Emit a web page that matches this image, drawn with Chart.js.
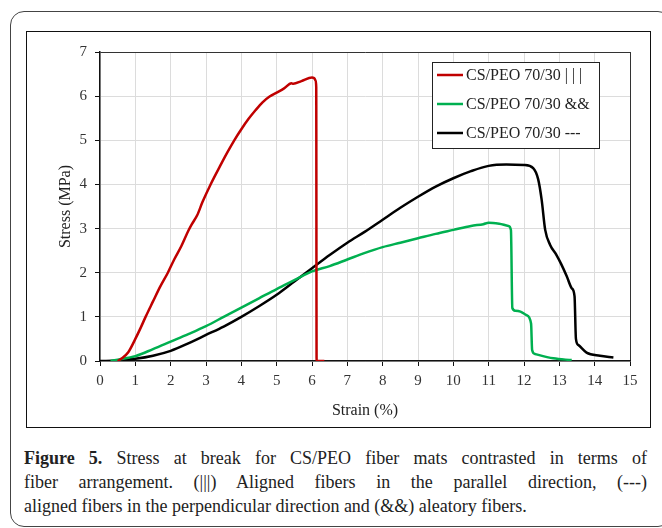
<!DOCTYPE html>
<html>
<head>
<meta charset="utf-8">
<script src="https://cdn.jsdelivr.net/npm/chart.js@4.4.1/dist/chart.umd.min.js"></script>
<style>
    body { margin: 0; background: #fff; width: 662px; height: 528px; overflow: hidden; position: relative; }
    #outer { position: absolute; left: 10px; top: 11px; width: 660px; height: 514px; border: 1px solid #444; border-radius: 14px; }
    #frame { position: absolute; left: 26px; top: 31px; width: 623px; height: 395px; border: 1px solid #111; }
    #wrap { position: absolute; left: 27px; top: 32px; width: 622px; height: 394px; }
    #caption { position: absolute; left: 24px; top: 446px; width: 623px; font-family: 'Liberation Serif', serif; font-size: 18px; line-height: 24px; color: #222; }
    #caption div { text-align: justify; text-align-last: justify; white-space: nowrap; }
    #caption div.last { text-align-last: left; }
</style>
</head>
<body>
<div id="outer"></div>
<div id="frame"></div>
<div id="wrap"><canvas id="stressChart"></canvas></div>
<div id="caption">
    <div><b>Figure 5.</b> Stress at break for CS/PEO fiber mats contrasted in terms of</div>
    <div>fiber arrangement. (|||) Aligned fibers in the parallel direction, (---)</div>
    <div class="last">aligned fibers in the perpendicular direction and (&amp;&amp;) aleatory fibers.</div>
</div>
<script>
// Series: strain (%) vs stress (MPa)
const seriesLabels = ['CS/PEO 70/30 | | |', 'CS/PEO 70/30 &&', 'CS/PEO 70/30 ---'];

const redStrain = [0.5, 0.6, 0.8, 1.0, 1.15, 1.29, 1.5, 1.7, 1.92, 2.1, 2.3, 2.5, 2.6, 2.75, 2.9, 3.13, 3.4, 3.6, 3.8, 4.0, 4.2, 4.4, 4.6, 4.8, 5.0, 5.2, 5.42, 5.47, 5.7, 6.0, 6.06, 6.1, 6.12, 6.13, 6.35];
const redStress = [0, 0.05, 0.2, 0.5, 0.75, 1.0, 1.35, 1.68, 2.0, 2.3, 2.6, 2.95, 3.1, 3.3, 3.6, 4.0, 4.42, 4.72, 5.0, 5.25, 5.48, 5.68, 5.86, 5.99, 6.08, 6.17, 6.29, 6.28, 6.34, 6.42, 6.41, 6.36, 6.2, 0, 0];

const greenStrain = [0.3, 0.5, 1, 1.5, 2, 2.5, 3, 3.5, 4, 4.5, 5, 5.5, 6, 6.5, 7, 7.5, 8, 8.5, 9, 9.5, 10, 10.5, 10.85, 11.0, 11.3, 11.56, 11.63, 11.67, 11.75, 11.9, 12.07, 12.2, 12.23, 12.31, 12.83, 13.35];
const greenStress = [0, 0.03, 0.11, 0.27, 0.44, 0.61, 0.79, 1.0, 1.21, 1.42, 1.63, 1.83, 2.03, 2.15, 2.3, 2.45, 2.58, 2.68, 2.78, 2.88, 2.97, 3.06, 3.1, 3.13, 3.11, 3.06, 2.97, 1.2, 1.14, 1.12, 1.04, 0.85, 0.25, 0.16, 0.06, 0.02];

const blackStrain = [0, 0.5, 1, 1.5, 2, 2.5, 3, 3.5, 4, 4.5, 5, 5.5, 6, 6.5, 7, 7.5, 8, 8.5, 9, 9.5, 10, 10.5, 11, 11.5, 12, 12.26, 12.4, 12.5, 12.6, 12.74, 12.92, 13.05, 13.21, 13.35, 13.43, 13.47, 13.54, 13.77, 14.15, 14.53];
const blackStress = [0, 0.01, 0.05, 0.12, 0.23, 0.4, 0.59, 0.78, 1.0, 1.24, 1.5, 1.8, 2.1, 2.4, 2.68, 2.93, 3.2, 3.47, 3.72, 3.95, 4.14, 4.3, 4.42, 4.45, 4.44, 4.37, 4.12, 3.65, 2.97, 2.63, 2.4, 2.2, 1.92, 1.65, 1.47, 0.5, 0.36, 0.19, 0.12, 0.08];

const xMin = 0, xMax = 15, yMin = 0, yMax = 7;
const seriesColors = ['#c00000', '#00b050', '#000000'];

function toPoints(xs, ys) {
    return xs.map((x, i) => ({ x: x, y: ys[i] }));
}

// Legend box drawn inside the plot, top right
const legendBox = {
    id: 'legendBox',
    afterDatasetsDraw(chart) {
        const { ctx, chartArea } = chart;
        const x = chartArea.left + 332, y = chartArea.top + 10, w = 167, h = 86;
        ctx.save();
        ctx.fillStyle = '#fff';
        ctx.fillRect(x, y, w, h);
        ctx.strokeStyle = '#222';
        ctx.lineWidth = 1;
        ctx.strokeRect(x + 0.5, y + 0.5, w, h);
        ctx.font = "16px 'Liberation Serif', serif";
        ctx.textBaseline = 'middle';
        chart.data.datasets.forEach((ds, i) => {
            const cy = y + 13 + i * 29;
            ctx.strokeStyle = ds.borderColor;
            ctx.lineWidth = 2.5;
            ctx.beginPath();
            ctx.moveTo(x + 5, cy);
            ctx.lineTo(x + 31, cy);
            ctx.stroke();
            ctx.fillStyle = '#222';
            ctx.fillText(ds.label, x + 34, cy + 1);
        });
        ctx.restore();
    }
};

function initChart() {
    const ctx = document.getElementById('stressChart').getContext('2d');
    Chart.defaults.font.family = "'Liberation Serif', serif";
    Chart.defaults.color = '#333';

    new Chart(ctx, {
        type: 'line',
        data: {
            datasets: [
                { label: seriesLabels[0], data: toPoints(redStrain, redStress), borderColor: seriesColors[0] },
                { label: seriesLabels[1], data: toPoints(greenStrain, greenStress), borderColor: seriesColors[1] },
                { label: seriesLabels[2], data: toPoints(blackStrain, blackStress), borderColor: seriesColors[2] }
            ]
        },
        options: {
            responsive: true,
            maintainAspectRatio: false,
            animation: false,
            layout: { padding: { top: 20, right: 19, left: 0, bottom: 0 } },
            elements: {
                line: { borderWidth: 2.5, cubicInterpolationMode: 'monotone', fill: false },
                point: { radius: 0, hoverRadius: 0 }
            },
            plugins: { legend: { display: false }, tooltip: { enabled: false } },
            scales: {
                x: {
                    type: 'linear', min: xMin, max: xMax,
                    afterFit: (scale) => { scale.height = 65; },
                    ticks: { stepSize: 1, padding: 6, font: { size: 15 }, color: '#333' },
                    grid: {
                        color: (c) => c.tick && c.tick.value === xMax ? '#333' : '#dcdcdc',
                        tickColor: '#111', tickLength: 5, lineWidth: 1
                    },
                    border: { color: '#111', width: 1.5 },
                    title: { display: true, text: 'Strain (%)', font: { size: 16 }, color: '#222', padding: { top: 0, bottom: 6 } }
                },
                y: {
                    min: yMin, max: yMax,
                    afterFit: (scale) => { scale.width = 73; },
                    ticks: { stepSize: 1, padding: 8, font: { size: 15 }, color: '#333' },
                    grid: {
                        color: (c) => c.tick && c.tick.value === yMax ? '#333' : '#dcdcdc',
                        tickColor: '#111', tickLength: 5, lineWidth: 1
                    },
                    border: { color: '#111', width: 1.5 },
                    title: { display: true, text: 'Stress (MPa)', font: { size: 16 }, color: '#222', padding: { top: 29, bottom: 0 } }
                }
            }
        },
        plugins: [legendBox]
    });
}

document.addEventListener('DOMContentLoaded', initChart);
</script>
</body>
</html>
